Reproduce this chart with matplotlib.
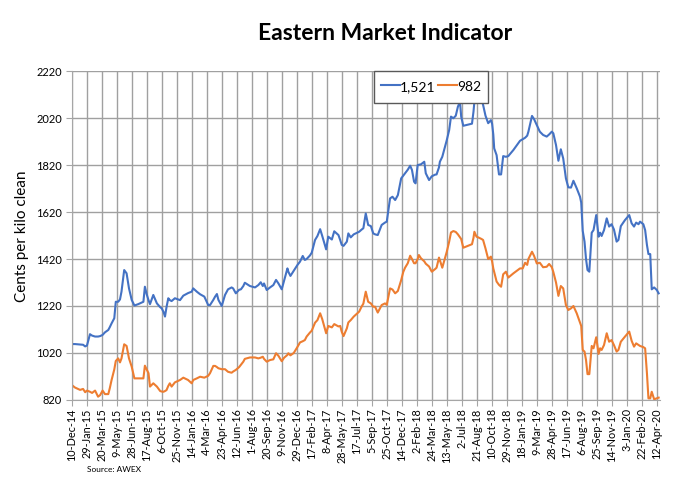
import matplotlib
matplotlib.use('Agg')
import matplotlib.pyplot as plt
import pandas as pd

# weekly sale dates (approx)
dates = [
    '2014-12-10', '2014-12-21', '2015-01-07', '2015-01-17', '2015-01-24',
    '2015-01-30', '2015-02-09', '2015-02-16', '2015-02-26', '2015-03-08',
    '2015-03-15', '2015-03-23', '2015-03-31', '2015-04-11', '2015-04-16',
    '2015-04-22', '2015-05-01', '2015-05-06', '2015-05-14', '2015-05-20',
    '2015-05-25', '2015-06-03', '2015-06-11', '2015-06-19', '2015-06-28',
    '2015-07-07', '2015-07-20', '2015-08-06', '2015-08-11', '2015-08-17',
    '2015-08-23', '2015-08-28', '2015-09-08', '2015-09-20', '2015-10-01',
    '2015-10-06', '2015-10-12', '2015-10-17', '2015-10-22', '2015-10-28',
    '2015-11-02', '2015-11-08', '2015-11-19', '2015-12-06', '2015-12-17',
    '2016-01-02', '2016-01-14', '2016-01-19', '2016-01-31', '2016-02-11',
    '2016-02-25', '2016-03-09', '2016-03-15', '2016-03-26', '2016-04-01',
    '2016-04-07', '2016-04-12', '2016-04-23', '2016-05-04', '2016-05-14',
    '2016-05-26', '2016-05-31', '2016-06-09', '2016-06-20', '2016-06-26',
    '2016-07-04', '2016-07-09', '2016-07-26', '2016-08-12', '2016-08-23',
    '2016-08-31', '2016-09-07', '2016-09-11', '2016-09-20', '2016-10-01',
    '2016-10-12', '2016-10-21', '2016-10-29', '2016-11-09', '2016-11-17',
    '2016-11-28', '2016-12-01', '2016-12-08', '2016-12-19', '2016-12-31',
    '2017-01-09', '2017-01-18', '2017-01-25', '2017-01-31', '2017-02-05',
    '2017-02-11', '2017-02-17', '2017-02-28', '2017-03-08', '2017-03-17',
    '2017-03-24', '2017-04-06', '2017-04-13', '2017-04-25', '2017-05-03',
    '2017-05-17', '2017-05-23', '2017-05-28', '2017-06-03', '2017-06-14',
    '2017-06-19', '2017-06-27', '2017-07-07', '2017-07-25', '2017-08-02',
    '2017-08-08', '2017-08-16', '2017-08-24', '2017-09-02', '2017-09-10',
    '2017-09-16', '2017-09-25', '2017-10-08', '2017-10-19', '2017-10-25',
    '2017-11-05', '2017-11-13', '2017-11-22', '2017-12-01', '2017-12-12',
    '2017-12-19', '2017-12-25', '2018-01-03', '2018-01-11', '2018-01-17',
    '2018-01-24', '2018-01-29', '2018-02-05', '2018-02-09', '2018-02-16',
    '2018-02-27', '2018-03-04', '2018-03-15', '2018-03-24', '2018-04-04',
    '2018-04-09', '2018-04-17', '2018-04-20', '2018-04-28', '2018-05-13',
    '2018-05-21', '2018-05-27', '2018-06-04', '2018-06-12', '2018-06-19',
    '2018-06-26', '2018-06-30', '2018-07-07', '2018-07-24', '2018-08-05',
    '2018-08-10', '2018-08-13', '2018-08-20', '2018-08-26', '2018-09-06',
    '2018-09-11', '2018-09-19', '2018-09-28', '2018-10-07', '2018-10-11',
    '2018-10-15', '2018-10-18', '2018-10-26', '2018-11-03', '2018-11-10',
    '2018-11-17', '2018-11-26', '2018-12-04', '2018-12-21', '2019-01-12',
    '2019-01-21', '2019-01-29', '2019-02-05', '2019-02-09', '2019-02-21',
    '2019-02-28', '2019-03-09', '2019-03-19', '2019-03-30', '2019-04-11',
    '2019-04-19', '2019-04-28', '2019-05-03', '2019-05-12', '2019-05-20',
    '2019-05-28', '2019-06-05', '2019-06-14', '2019-06-22', '2019-07-01',
    '2019-07-09', '2019-07-20', '2019-07-31', '2019-08-04', '2019-08-09',
    '2019-08-15', '2019-08-20', '2019-08-25', '2019-08-31', '2019-09-08',
    '2019-09-14', '2019-09-23', '2019-10-01', '2019-10-06', '2019-10-11',
    '2019-10-19', '2019-10-28', '2019-11-05', '2019-11-13', '2019-11-21',
    '2019-11-30', '2019-12-06', '2019-12-14', '2019-12-28', '2020-01-11',
    '2020-01-19', '2020-01-27', '2020-02-03', '2020-02-11', '2020-02-16',
    '2020-02-27', '2020-03-04', '2020-03-10', '2020-03-15', '2020-03-21',
    '2020-03-26', '2020-04-03', '2020-04-12', '2020-04-18',
]

# blue series (legend 1,521)
emi_blue = [
    1058, 1058, 1056, 1055, 1048, 1052, 1100, 1094, 1090, 1090,
    1092, 1097, 1108, 1118, 1130, 1146, 1168, 1238, 1238, 1248,
    1281, 1373, 1359, 1295, 1246, 1222, 1228, 1238, 1302, 1270,
    1245, 1228, 1267, 1231, 1215, 1210, 1195, 1175, 1215, 1253,
    1245, 1241, 1253, 1245, 1264, 1275, 1281, 1295, 1281, 1270,
    1260, 1224, 1224, 1246, 1260, 1271, 1246, 1220, 1267, 1291,
    1299, 1295, 1274, 1289, 1291, 1305, 1319, 1305, 1299, 1309,
    1321, 1305, 1316, 1288, 1299, 1309, 1331, 1316, 1291, 1328,
    1380, 1366, 1348, 1370, 1394, 1409, 1433, 1416, 1420, 1427,
    1435, 1447, 1501, 1518, 1547, 1518, 1461, 1515, 1503, 1538,
    1522, 1500, 1480, 1476, 1494, 1529, 1512, 1525, 1536, 1545,
    1551, 1614, 1565, 1560, 1529, 1525, 1522, 1565, 1575, 1579,
    1678, 1685, 1671, 1692, 1763, 1775, 1785, 1800, 1817, 1799,
    1749, 1742, 1820, 1821, 1823, 1834, 1785, 1756, 1772, 1779,
    1780, 1810, 1834, 1855, 1926, 1969, 2026, 2019, 2030, 2068,
    2090, 2026, 1987, 1992, 1996, 2047, 2089, 2092, 2093, 2097,
    2076, 2030, 1998, 2011, 1996, 1950, 1891, 1862, 1780, 1780,
    1858, 1855, 1858, 1884, 1923, 1930, 1936, 1945, 1962, 2029,
    2015, 1990, 1962, 1948, 1941, 1950, 1962, 1955, 1905, 1838,
    1887, 1848, 1763, 1725, 1724, 1753, 1721, 1685, 1660, 1540,
    1494, 1420, 1373, 1366, 1532, 1543, 1607, 1515, 1532, 1518,
    1543, 1593, 1558, 1568, 1546, 1494, 1501, 1560, 1586, 1607,
    1572, 1558, 1575, 1568, 1579, 1568, 1543, 1480, 1441, 1441,
    1291, 1299, 1288, 1274,
]

# orange series (legend 982)
emi_orange = [
    884, 873, 863, 867, 853, 860, 855, 850, 860, 834,
    841, 860, 845, 845, 870, 905, 950, 986, 997, 980,
    997, 1057, 1050, 997, 962, 912, 912, 912, 966, 950,
    934, 877, 891, 877, 858, 856, 855, 858, 862, 880,
    891, 877, 895, 905, 915, 905, 891, 905, 912, 919,
    915, 923, 934, 965, 965, 960, 955, 951, 951, 940,
    936, 941, 948, 960, 970, 983, 995, 1001, 1001, 997,
    1000, 1004, 995, 983, 990, 993, 1019, 1008, 985, 1000,
    1012, 1019, 1010, 1020, 1045, 1065, 1070, 1075, 1090, 1098,
    1107, 1115, 1149, 1160, 1189, 1164, 1104, 1135, 1129, 1143,
    1133, 1135, 1110, 1092, 1125, 1150, 1160, 1175, 1196, 1217,
    1230, 1281, 1238, 1231, 1217, 1217, 1192, 1224, 1231, 1225,
    1295, 1290, 1274, 1284, 1330, 1365, 1383, 1402, 1434, 1420,
    1402, 1402, 1420, 1437, 1423, 1410, 1400, 1388, 1366, 1377,
    1383, 1426, 1415, 1383, 1451, 1494, 1533, 1539, 1535, 1525,
    1512, 1505, 1468, 1477, 1483, 1510, 1536, 1515, 1512, 1505,
    1501, 1465, 1420, 1430, 1410, 1380, 1365, 1324, 1310, 1302,
    1355, 1366, 1341, 1359, 1380, 1380, 1404, 1395, 1420, 1451,
    1433, 1401, 1404, 1385, 1387, 1399, 1385, 1365, 1320, 1263,
    1305, 1295, 1224, 1203, 1210, 1220, 1189, 1150, 1135, 1033,
    1026, 990, 930, 930, 1050, 1040, 1087, 1016, 1040, 1033,
    1054, 1104, 1068, 1075, 1054, 1026, 1033, 1068, 1090, 1111,
    1072, 1047, 1061, 1054, 1050, 1045, 1040, 934, 827, 827,
    855, 823, 827, 830,
]

series_names = ['1,521', '982']
y_ticks = [820, 1020, 1220, 1420, 1620, 1820, 2020, 2220]

plt.rcParams['font.family'] = ['Lato', 'DejaVu Sans']

fig = plt.figure(figsize=(6.73, 4.8), dpi=100)
ax = fig.add_axes([0.1065, 0.1667, 0.8735, 0.6853])

x = pd.to_datetime(dates)
ax.plot(x, emi_blue, color='#4472C4', lw=1.5, label=series_names[0])
ax.plot(x, emi_orange, color='#ED7D31', lw=1.5, label=series_names[1])

# excel style date axis, a label every 50 days
ticks = pd.date_range('2014-12-10', periods=40, freq='50D')
ax.set_xticks(ticks)
ax.set_xticklabels(['%d-%s' % (t.day, t.strftime('%b-%y')) for t in ticks],
                   rotation=90, fontsize=7.8)
ax.set_xlim(pd.Timestamp('2014-12-10'), pd.Timestamp('2020-04-21'))
ax.set_ylim(820, 2220)
ax.set_yticks(y_ticks)
ax.tick_params(axis='y', labelsize=8, length=4, color='#a6a6a6', pad=3)
ax.tick_params(axis='x', length=4, color='#a6a6a6', pad=2)

ax.grid(True, color='#a0a0a0', lw=1)
ax.set_axisbelow(True)
for side in ['top', 'right']:
    ax.spines[side].set_visible(False)
for side in ['left', 'bottom']:
    ax.spines[side].set_color('#a6a6a6')

leg = ax.legend(loc='upper left', bbox_to_anchor=(0.514, 1.0), ncol=2,
                fancybox=False, framealpha=1, edgecolor='#595959',
                fontsize=10, handlelength=1.35, handleheight=1.6,
                handletextpad=0.05, columnspacing=0.15, borderpad=0.5,
                borderaxespad=0)
leg.get_frame().set_linewidth(1)

fig.text(0.572, 1 - 33 / 480, 'Eastern Market Indicator',
         ha='center', va='center', fontsize=16.5, weight='bold')
fig.text(22 / 673, 1 - 236 / 480, 'Cents per kilo clean', rotation=90,
         ha='center', va='center', fontsize=11)
fig.text(87 / 673, 1 - 469 / 480, 'Source: AWEX', fontsize=6, va='center')

fig.savefig('out.png', dpi=100)
